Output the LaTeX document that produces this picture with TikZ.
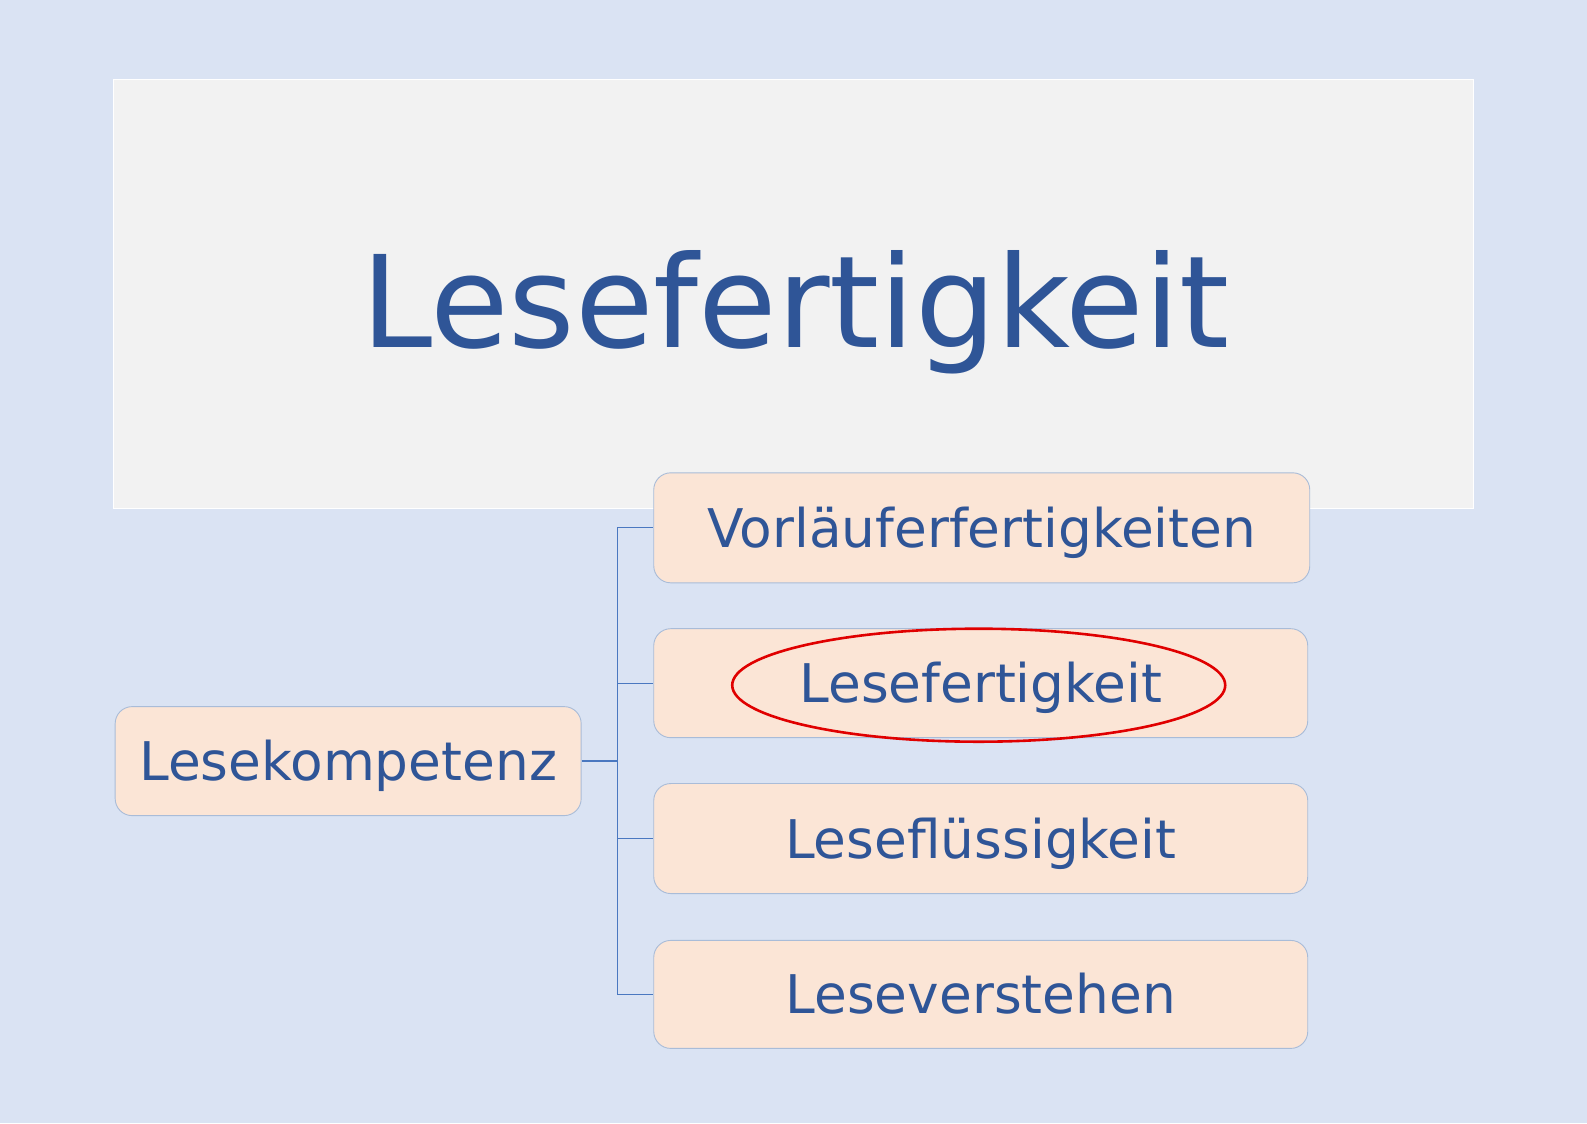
\documentclass[tikz,border=0pt]{standalone}
\usepackage{fontspec}
\usetikzlibrary{shapes.geometric}
\setmainfont{DejaVu Sans}
\definecolor{bg}{HTML}{DAE3F3}
\definecolor{titlebg}{HTML}{F2F2F2}
\definecolor{boxbg}{HTML}{FBE5D6}
\definecolor{boxline}{HTML}{A9BCD8}
\definecolor{txt}{HTML}{2F5597}
\definecolor{conn}{HTML}{4A78C0}
\definecolor{ring}{HTML}{E00000}
\tikzset{
  topicbox/.style={draw=boxline, line width=0.9pt, fill=boxbg, rounded corners=17pt,
    inner sep=0pt, text=txt, font=\fontsize{53.3}{60}\selectfont,
    text height=39pt, text depth=0pt},
  linker/.style={draw=conn, line width=1.3pt},
}
\begin{document}
\begin{tikzpicture}[x=1.0121pt,y=-1.0121pt]
\useasboundingbox (0,0) rectangle (1568,1109.6);
\fill[bg] (0,0) rectangle (1568,1109.6);
\node[fill=titlebg, draw=white, line width=1pt, minimum width=1360pt, minimum height=429pt, inner sep=0pt] (title) at (784,290) {};
\node[text=txt, font=\fontsize{127.7}{140}\selectfont, anchor=base] (titletext) at (786,343) {Lesefertigkeit};
\node[topicbox, minimum width=656pt, minimum height=110pt] (b1) at (970,521.5) {Vorläuferfertigkeiten};
\node[topicbox, minimum width=654pt, minimum height=109pt] (b2) at (969,675) {Lesefertigkeit};
\node[topicbox, minimum width=654pt, minimum height=110pt] (b3) at (969,828.5) {Leseflüssigkeit};
\node[topicbox, minimum width=654pt, minimum height=108pt] (b4) at (969,982.5) {Leseverstehen};
\node[topicbox, minimum width=466pt, minimum height=109pt] (root) at (344,752) {Lesekompetenz};
\node[draw=ring, line width=2.6pt, ellipse, minimum width=493pt, minimum height=113pt, inner sep=0pt] (ring) at (967,677) {};
\coordinate (fork) at (610,752);
\draw[linker] (root.east) -- (fork);
\draw[linker] (fork) |- (b1.west);
\draw[linker] (fork) |- (b2.west);
\draw[linker] (fork) |- (b3.west);
\draw[linker] (fork) |- (b4.west);
\end{tikzpicture}
\end{document}
